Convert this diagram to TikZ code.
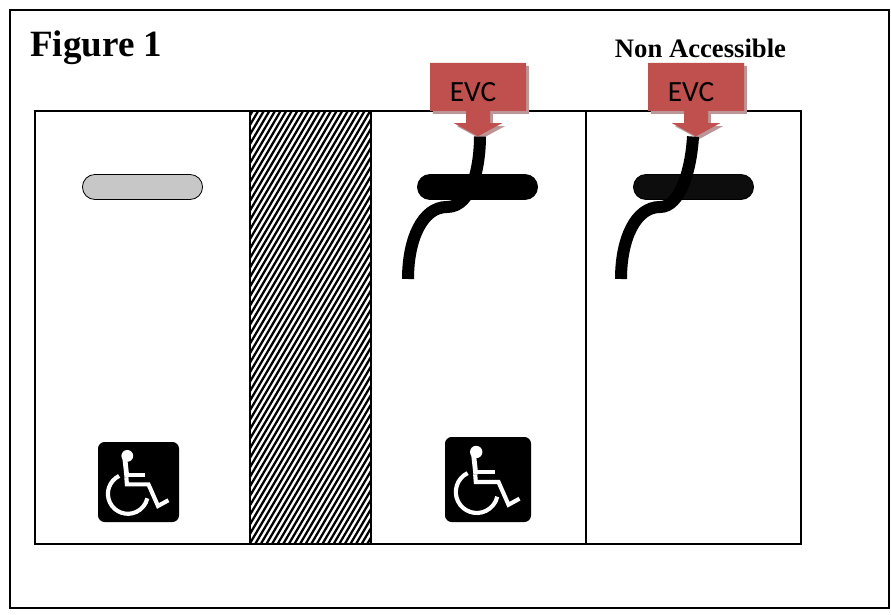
\documentclass[tikz,border=0pt]{standalone}
\usepackage{fontspec}
\setmainfont{Liberation Serif}
\newfontfamily\evcfont{Carlito}
\usetikzlibrary{shapes.arrows, shapes.misc, shadows, calc}
\definecolor{evcred}{HTML}{C0504D}
\definecolor{evcshade}{HTML}{BC9696}
\tikzset{
  wheelsign/.pic={
    \fill[white] (-11.8,27.5) circle (6.2);
    \draw[white, line width=3.6pt] (-14.5,25.8) -- (-12.2,5);
    \draw[white, line width=3.1pt] (-13,7.5) -- (6.5,7.5);
    \draw[white, line width=3.1pt] (-12.8,5) -- (-12.2,-2.5) -- (10.5,-2.5) -- (20.5,-25.2) -- (31.5,-19.2);
    \draw[white, line width=3.1pt] (-20.4,6.4) arc (116:347:21);
  },
}
\begin{document}
\begin{tikzpicture}[
  x=0.75pt, y=0.75pt,
  wall/.style={draw, line width=0.85pt},
  slot/.style={rounded rectangle, draw, line width=0.6pt, minimum width=96.75pt, minimum height=18.75pt},
  evcbox/.style={arrow box, fill=evcred, inner sep=0pt, minimum width=72pt, minimum height=36pt,
    arrow box arrows={south:18.75pt}, arrow box shaft width=18pt, arrow box head extend=9pt,
    arrow box head indent=0pt, arrow box tip angle=123,
    copy shadow={shadow xshift=2.2pt, shadow yshift=-2.2pt, fill=evcshade, draw=none}},
  evctext/.style={font=\evcfont\fontsize{22}{26}\selectfont},
  cable/.style={line width=9pt},
  sign/.style={rectangle, rounded corners=5pt, fill=black},
]
  \useasboundingbox (0,0) rectangle (891,614);
  \draw[wall] (10,6) rectangle (889,604);

  \node[anchor=base west, inner sep=0pt, font=\bfseries\fontsize{27.8}{32}\selectfont] (figtitle) at (30,557) {Figure 1};
  \node[anchor=base, font=\bfseries\fontsize{20}{24}\selectfont] (nonacc) at (700.5,556) {Non Accessible};

  \begin{scope}
    \clip (250,70) rectangle (371,503);
    \foreach \hx in {-8,-2.4,...,372}
      \draw[line width=1.7pt] (\hx,70) -- (\hx+255,503);
  \end{scope}
  \draw[wall] (35,70) rectangle (801,503);
  \draw[wall] (250,70) -- (250,503);
  \draw[wall] (371,70) -- (371,503);
  \draw[wall] (586,70) -- (586,503);

  \node[slot, fill=black!22] (slotA) at (142.5,427) {};
  \node[slot, fill=black] (slotB) at (477.5,427) {};
  \node[slot, fill=black!95] (slotC) at (693.5,427) {};

  \node[evcbox] (evcB) at (478,527) {};
  \node[evcbox] (evcC) at (696,527) {};
  \node[evctext] (evcBtext) at (473,522) {EVC};
  \node[evctext] (evcCtext) at (691,522) {EVC};

  \coordinate (endB) at (408,335);
  \coordinate (endC) at (621,335);
  \draw[cable] ($(evcB.south arrow tip)+(2,0)$) .. controls +(0,-24) and (474,407) .. (447,407)
    .. controls (422,407) and (408,374) .. (endB);
  \draw[cable] ($(evcC.south arrow tip)+(-3,0)$) .. controls +(-2,-34) and (680,407) .. (660,407)
    .. controls (635,407) and (621,374) .. (endC);

  \node[sign, minimum width=60.75pt, minimum height=60pt] (signA) at (138.5,132) {};
  \node[sign, minimum width=64.5pt, minimum height=63.75pt] (signB) at (488,134.5) {};
  \pic[scale=0.95] at (signA) {wheelsign};
  \pic at (signB) {wheelsign};
\end{tikzpicture}
\end{document}
